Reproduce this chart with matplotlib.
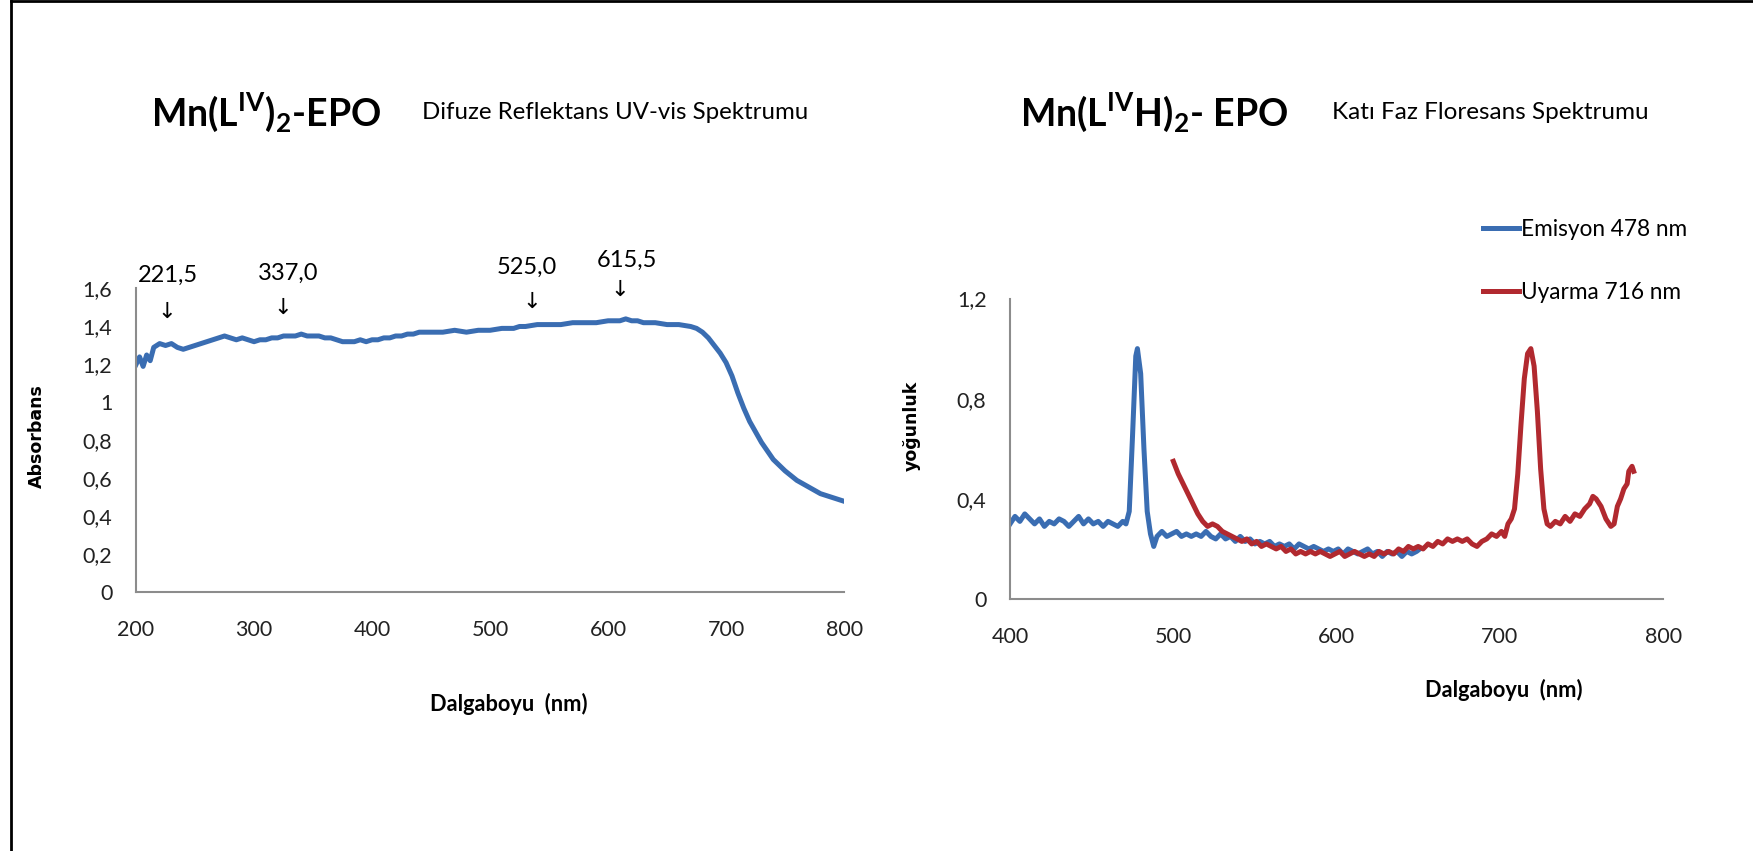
import numpy as np
import matplotlib.pyplot as plt
from matplotlib.lines import Line2D

plt.rcParams['font.family'] = ['Lato', 'DejaVu Sans']
plt.rcParams['mathtext.fontset'] = 'custom'
plt.rcParams['mathtext.rm'] = 'Lato:bold'
plt.rcParams['mathtext.bf'] = 'Lato:bold'

# --- Sol grafik: Difuze Reflektans UV-vis (Absorbans) ---
dalga_uv = [200, 203, 206, 209, 212, 215, 220, 225, 230, 235, 240, 245, 250, 255, 260, 265, 270,
            275, 280, 285, 290, 295, 300, 305, 310, 315, 320, 325, 330, 335, 340, 345,
            350, 355, 360, 365, 370, 375, 380, 385, 390, 395, 400, 405, 410, 415, 420,
            425, 430, 435, 440, 445, 450, 460, 470, 480, 490, 500, 510, 520, 525, 530,
            540, 550, 560, 570, 580, 590, 600, 610, 615, 620, 625, 630, 640, 650, 660,
            670, 675, 680, 685, 690, 695, 700, 705, 710, 715, 720, 730, 740, 750, 760,
            770, 780, 790, 800]
absorbans = [1.20, 1.24, 1.19, 1.25, 1.22, 1.29, 1.31, 1.30, 1.31, 1.29, 1.28, 1.29, 1.30, 1.31, 1.32, 1.33, 1.34,
             1.35, 1.34, 1.33, 1.34, 1.33, 1.32, 1.33, 1.33, 1.34, 1.34, 1.35, 1.35, 1.35, 1.36, 1.35,
             1.35, 1.35, 1.34, 1.34, 1.33, 1.32, 1.32, 1.32, 1.33, 1.32, 1.33, 1.33, 1.34, 1.34, 1.35,
             1.35, 1.36, 1.36, 1.37, 1.37, 1.37, 1.37, 1.38, 1.37, 1.38, 1.38, 1.39, 1.39, 1.40, 1.40,
             1.41, 1.41, 1.41, 1.42, 1.42, 1.42, 1.43, 1.43, 1.44, 1.43, 1.43, 1.42, 1.42, 1.41, 1.41,
             1.40, 1.39, 1.37, 1.34, 1.30, 1.26, 1.21, 1.14, 1.05, 0.97, 0.90, 0.79, 0.70, 0.64, 0.59,
             0.555, 0.52, 0.50, 0.48]

piklar = ['221,5', '337,0', '525,0', '615,5']
pik_yazi_x = [227, 329, 531, 616]
pik_yazi_y = [1.67, 1.68, 1.71, 1.75]
ok_x = [226, 324, 535, 610]
ok_y = [1.475, 1.50, 1.53, 1.59]

# --- Sag grafik: Kati faz floresans ---
dalga_em = [400, 403, 406, 409, 412, 415, 418, 421, 424, 427, 430, 433, 436, 439, 442,
            445, 448, 451, 454, 457, 460, 463, 466, 469, 471, 473, 475, 477, 478, 480,
            482, 484, 486, 488, 490, 493, 496, 499, 502, 505, 508, 511, 514, 517, 520,
            523, 526, 529, 532, 535, 538, 541, 544, 547, 550, 553, 556, 559, 562, 565,
            568, 571, 574, 577, 580, 583, 586, 589, 592, 595, 598, 601, 604, 607, 610,
            613, 616, 619, 622, 625, 628, 631, 634, 637, 640, 643, 646, 649, 651]
emisyon = [0.30, 0.33, 0.31, 0.34, 0.32, 0.30, 0.32, 0.29, 0.31, 0.30, 0.32, 0.31, 0.29, 0.31, 0.33,
           0.30, 0.32, 0.30, 0.31, 0.29, 0.31, 0.30, 0.29, 0.31, 0.30, 0.35, 0.65, 0.97, 1.00, 0.90,
           0.60, 0.35, 0.26, 0.21, 0.25, 0.27, 0.25, 0.26, 0.27, 0.25, 0.26, 0.25, 0.26, 0.25, 0.27,
           0.25, 0.24, 0.26, 0.24, 0.25, 0.23, 0.25, 0.23, 0.24, 0.22, 0.23, 0.22, 0.23, 0.21, 0.22,
           0.21, 0.22, 0.20, 0.22, 0.21, 0.20, 0.21, 0.20, 0.19, 0.20, 0.19, 0.20, 0.18, 0.20, 0.19,
           0.18, 0.19, 0.20, 0.18, 0.19, 0.17, 0.19, 0.18, 0.19, 0.17, 0.19, 0.18, 0.19, 0.20]

dalga_uy = [500, 503, 506, 509, 512, 515, 518, 521, 524, 527, 530, 533, 536, 539, 542,
            545, 548, 551, 554, 557, 560, 563, 566, 569, 572, 575, 578, 581, 584, 587,
            590, 593, 596, 599, 602, 605, 608, 611, 614, 617, 620, 623, 626, 629, 632,
            635, 638, 641, 644, 647, 650, 653, 656, 659, 662, 665, 668, 671, 674, 677,
            680, 683, 686, 689, 692, 695, 698, 701, 703, 705, 707, 709, 711, 713, 715,
            717, 719, 721, 723, 725, 727, 729, 731, 734, 737, 740, 743, 746, 749, 752,
            755, 757, 759, 762, 765, 768, 770, 772, 774, 776, 778, 779, 781, 782]
uyarma = [0.55, 0.50, 0.46, 0.42, 0.38, 0.34, 0.31, 0.29, 0.30, 0.29, 0.27, 0.26, 0.25, 0.24, 0.23,
          0.24, 0.22, 0.23, 0.21, 0.22, 0.21, 0.20, 0.21, 0.19, 0.20, 0.18, 0.19, 0.18, 0.19, 0.18,
          0.19, 0.18, 0.17, 0.18, 0.19, 0.17, 0.18, 0.19, 0.18, 0.17, 0.18, 0.17, 0.19, 0.18, 0.19,
          0.18, 0.20, 0.19, 0.21, 0.20, 0.21, 0.20, 0.22, 0.21, 0.23, 0.22, 0.24, 0.23, 0.24, 0.23,
          0.24, 0.22, 0.21, 0.23, 0.24, 0.26, 0.25, 0.27, 0.25, 0.30, 0.32, 0.36, 0.50, 0.70, 0.88,
          0.98, 1.00, 0.93, 0.75, 0.52, 0.36, 0.30, 0.29, 0.31, 0.30, 0.33, 0.31, 0.34, 0.33, 0.36,
          0.38, 0.41, 0.40, 0.37, 0.32, 0.29, 0.30, 0.37, 0.40, 0.44, 0.46, 0.51, 0.53, 0.51]

mavi = '#3A6DB2'
kirmizi = '#B1292F'
gri = '#8C8C8C'

fig = plt.figure(figsize=(17.53, 8.51), dpi=100)

def eksen_duzenle(ax):
    for s in ['top', 'right']:
        ax.spines[s].set_visible(False)
    for s in ['left', 'bottom']:
        ax.spines[s].set_color(gri)
        ax.spines[s].set_linewidth(1.5)
    ax.tick_params(length=0, labelsize=15.5, colors='#222222')
    ax.tick_params(axis='x', pad=20)
    ax.tick_params(axis='y', pad=17)

# sol
ax1 = fig.add_axes([0.0776, 0.3038, 0.4039, 0.3572])
ax1.plot(dalga_uv, absorbans, color=mavi, lw=3.6)
ax1.set_xlim(200, 800)
ax1.set_ylim(0, 1.6)
ax1.set_xticks(range(200, 801, 100))
ax1.set_yticks([0, 0.2, 0.4, 0.6, 0.8, 1.0, 1.2, 1.4, 1.6])
ax1.set_yticklabels(['0', '0,2', '0,4', '0,6', '0,8', '1', '1,2', '1,4', '1,6'])
eksen_duzenle(ax1)
for etiket, tx, ty, ox, oy in zip(piklar, pik_yazi_x, pik_yazi_y, ok_x, ok_y):
    ax1.text(tx, ty, etiket, ha='center', va='center', fontsize=17, clip_on=False)
    ax1.text(ox, oy, '↓', ha='center', va='center', fontsize=16,
             family='DejaVu Sans', clip_on=False)

# sag
ax2 = fig.add_axes([0.5762, 0.2961, 0.3725, 0.3531])
ax2.plot(dalga_em, emisyon, color=mavi, lw=3.6, label='Emisyon 478 nm')
ax2.plot(dalga_uy, uyarma, color=kirmizi, lw=3.6, label='Uyarma 716 nm')
ax2.set_xlim(400, 800)
ax2.set_ylim(0, 1.2)
ax2.set_xticks(range(400, 801, 100))
ax2.set_yticks([0, 0.4, 0.8, 1.2])
ax2.set_yticklabels(['0', '0,4', '0,8', '1,2'])
eksen_duzenle(ax2)
ax2.legend(loc='upper left', bbox_to_anchor=(0.8395, 0.756), bbox_transform=fig.transFigure,
           frameon=False, fontsize=16.3, handlelength=1.6, handletextpad=0.1,
           labelspacing=1.85, borderpad=0)

# basliklar
fig.text(0.086, 0.868, r'Mn(L$^{\mathrm{IV}}$)$_{\mathrm{2}}$-EPO', fontsize=27, fontweight='bold',
         va='center', ha='left')
fig.text(0.241, 0.868, 'Difuze Reflektans UV-vis Spektrumu', fontsize=17.3,
         va='center', ha='left')
fig.text(0.582, 0.868, r'Mn(L$^{\mathrm{IV}}$H)$_{\mathrm{2}}$- EPO', fontsize=27, fontweight='bold',
         va='center', ha='left')
fig.text(0.760, 0.868, 'Katı Faz Floresans Spektrumu', fontsize=17.5,
         va='center', ha='left')

# eksen etiketleri
fig.text(0.290, 0.173, 'Dalgaboyu  (nm)', fontsize=15.7, fontweight='bold', ha='center', va='center')
fig.text(0.858, 0.189, 'Dalgaboyu  (nm)', fontsize=15.7, fontweight='bold', ha='center', va='center')
fig.text(0.021, 0.488, 'Absorbans', fontsize=12.5, fontweight='bold', rotation=90,
         ha='center', va='center', family='DejaVu Sans')
fig.text(0.520, 0.500, 'yoğunluk', fontsize=12.5, fontweight='bold', rotation=90,
         ha='center', va='center', family='DejaVu Sans')

# cerceve
fig.add_artist(Line2D([0.0063, 0.0063], [0, 0.999], color='black', lw=2, transform=fig.transFigure))
fig.add_artist(Line2D([0.0063, 1.0], [0.999, 0.999], color='black', lw=2, transform=fig.transFigure))

fig.savefig('out.png', dpi=100)
